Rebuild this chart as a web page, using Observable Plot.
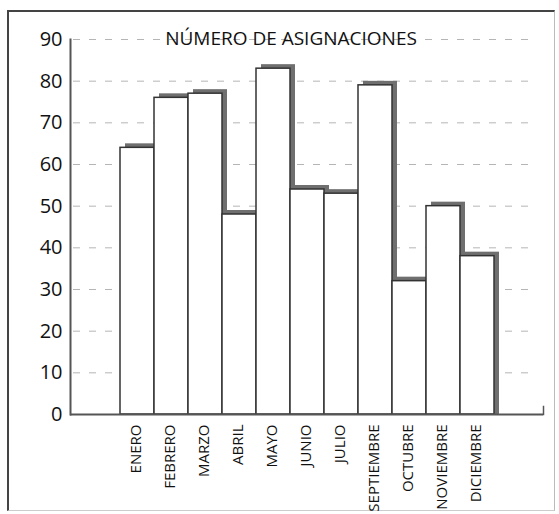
<!DOCTYPE html>
<html>
<head>
<meta charset="utf-8">
<script src="https://cdn.jsdelivr.net/npm/d3@7"></script>
<script src="https://cdn.jsdelivr.net/npm/@observablehq/plot@0.6"></script>
<style>
  html, body { margin: 0; padding: 0; background: #fff; }
  #wrap { position: relative; width: 559px; height: 514px; }
  #border { position: absolute; left: 7px; top: 10px; width: 548px; height: 501px;
    border-top: 2px solid #444; border-left: 2px solid #444; border-bottom: 1px solid #ccc; border-right: 1px solid #bbb; box-sizing: border-box; }
  #chart { position: absolute; left: 0; top: 0; }
</style>
</head>
<body>
<div id="wrap"><div id="border"></div><div id="chart"></div></div>
<script>
const title = "NÚMERO DE ASIGNACIONES";
const months = ["ENERO", "FEBRERO", "MARZO", "ABRIL", "MAYO", "JUNIO", "JULIO", "SEPTIEMBRE", "OCTUBRE", "NOVIEMBRE", "DICIEMBRE"];
const values = [64, 76, 77, 48, 83, 54, 53, 79, 32, 50, 38];
const yTicks = [0, 10, 20, 30, 40, 50, 60, 70, 80, 90];

const data = months.map((m, i) => ({month: m, value: values[i]}));
const font = "'Open Sans', 'Noto Sans', sans-serif";

const plot = Plot.plot({
  width: 559,
  height: 514,
  marginLeft: 70,
  marginRight: 16,
  marginTop: 39,
  marginBottom: 100,
  style: {fontFamily: font, background: "transparent", color: "#111"},
  x: {domain: months, paddingInner: 0, paddingOuter: 1.35, label: null},
  y: {domain: [0, 90], label: null},
  marks: [
    Plot.gridY(yTicks.filter(d => d > 0), {stroke: "#b5b5b5", strokeOpacity: 1, strokeDasharray: "7,9", insetRight: 12, insetLeft: 3}),
    Plot.barY(data, {x: "month", y: "value", fill: "#6f6f6f", dx: 5, dy: -4, insetBottom: -4}),
    Plot.barY(data, {x: "month", y: "value", fill: "#fff", stroke: "#333", strokeWidth: 1.5}),
    Plot.frame({anchor: "left", stroke: "#555", strokeWidth: 2}),
    Plot.ruleY([0], {stroke: "#555", strokeWidth: 2}),
    Plot.frame({anchor: "right", stroke: "#555", strokeWidth: 1.5, insetTop: 367}),
    Plot.axisY({ticks: yTicks, tickSize: 0, tickPadding: 8, fontSize: 20, fill: "#111"}),
    Plot.axisX({tickSize: 0, tickPadding: 10, tickRotate: -90, fontSize: 15, dx: -1, fill: "#111"}),
    Plot.text([title], {frameAnchor: "top", dx: -16, dy: -8, fontSize: 19, fill: "#111", textAnchor: "middle"})
  ]
});
document.getElementById("chart").appendChild(plot);
</script>
</body>
</html>
